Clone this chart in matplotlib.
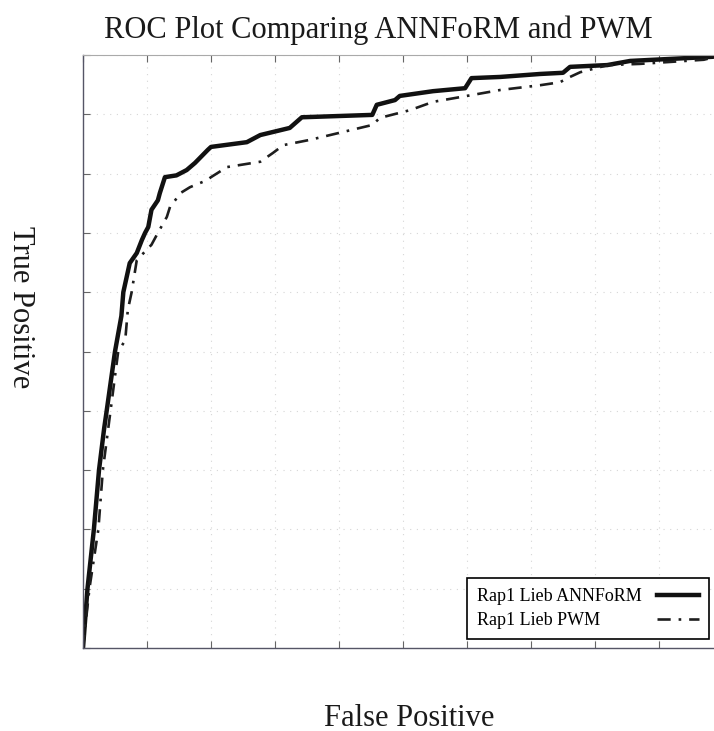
import matplotlib
matplotlib.use("Agg")
import matplotlib.pyplot as plt
import numpy as np

# ROC curve points (false positive rate, true positive rate)
annform_fp = [0.0, 0.007, 0.017, 0.025, 0.033, 0.037, 0.05, 0.06, 0.063, 0.073, 0.084,
              0.092, 0.097, 0.102, 0.107, 0.117, 0.12, 0.128, 0.146, 0.162, 0.175, 0.195,
              0.20, 0.256, 0.277, 0.323, 0.342, 0.452, 0.459, 0.4875, 0.495, 0.547, 0.597,
              0.607, 0.652, 0.714, 0.75, 0.761, 0.819, 0.855, 0.984, 1.0]
annform_tp = [0.0, 0.1, 0.2, 0.3, 0.37, 0.4, 0.5, 0.56, 0.6, 0.649, 0.666,
              0.688, 0.70, 0.71, 0.739, 0.755, 0.767, 0.794, 0.797, 0.806, 0.818, 0.84,
              0.845, 0.853, 0.865, 0.877, 0.895, 0.899, 0.916, 0.924, 0.931, 0.939, 0.944,
              0.961, 0.963, 0.968, 0.97, 0.98, 0.983, 0.99, 0.997, 1.0]

pwm_fp = [0.0, 0.01, 0.024, 0.031, 0.043, 0.055, 0.066, 0.07, 0.076, 0.084, 0.107,
          0.117, 0.131, 0.136, 0.144, 0.152, 0.167, 0.178, 0.194, 0.20, 0.225, 0.277,
          0.297, 0.313, 0.355, 0.452, 0.464, 0.511, 0.547, 0.6, 0.652, 0.714, 0.745,
          0.761, 0.777, 0.82, 0.87, 0.97, 1.0]
pwm_tp = [0.0, 0.1, 0.2, 0.3, 0.4, 0.5, 0.519, 0.57, 0.6, 0.654, 0.68,
          0.70, 0.727, 0.744, 0.755, 0.767, 0.777, 0.782, 0.789, 0.794, 0.811, 0.82,
          0.835, 0.848, 0.857, 0.882, 0.894, 0.907, 0.921, 0.931, 0.941, 0.949, 0.954,
          0.963, 0.971, 0.983, 0.985, 0.992, 1.0]

series_labels = ["Rap1 Lieb ANNFoRM", "Rap1 Lieb PWM"]
tick_positions = np.arange(0.0, 1.01, 0.1)

plt.rcParams["font.family"] = ["Liberation Serif", "DejaVu Serif"]

fig = plt.figure(figsize=(7.14, 7.31), dpi=100)
ax = fig.add_axes([83 / 714, 83 / 731, 640 / 714, 593 / 731])

ax.plot(annform_fp, annform_tp, color="#111111", lw=3.2, solid_joinstyle="round",
        label=series_labels[0])
ax.plot(pwm_fp, pwm_tp, color="#1e1e1e", lw=1.9, linestyle=(0, (5, 3, 1, 3)),
        label=series_labels[1])

ax.set_xlim(0, 1)
ax.set_ylim(0, 1)
ax.set_xticks(tick_positions)
ax.set_yticks(tick_positions)
ax.set_xticklabels([])
ax.set_yticklabels([])
ax.tick_params(direction="in", length=5, width=0.8, colors="#666666",
               top=True, right=True)
ax.grid(True, color="#d6d6d6", linestyle=(0, (1, 5)), lw=0.8)

for side in ["left", "bottom"]:
    ax.spines[side].set_color("#555566")
    ax.spines[side].set_linewidth(1.0)
ax.spines["top"].set_color("#aaaaaa")
ax.spines["top"].set_linewidth(0.8)

leg = ax.legend(loc="lower left", bbox_to_anchor=((467 - 83) / 640, (648 - 639) / 593),
                borderaxespad=0, frameon=True, fancybox=False, framealpha=1,
                edgecolor="black", markerfirst=False, fontsize=13,
                handlelength=2.35, borderpad=0.55, labelspacing=0.4, handletextpad=1.0)
leg.get_frame().set_linewidth(1.2)

# left-align the labels and push the line samples to the right edge of each row
for column in leg._legend_handle_box.get_children():
    column.align = "left"
    for row in column.get_children():
        row.mode = "expand"
        row.width = 222

fig.text(378 / 714, 1 - 30 / 731, "ROC Plot Comparing ANNFoRM and PWM",
         ha="center", va="center", fontsize=22, color="#1a1a1a")
fig.text(409 / 714, 1 - 718 / 731, "False Positive",
         ha="center", va="center", fontsize=22, color="#1a1a1a")
fig.text(20 / 714, 1 - 307 / 731, "True Positive", rotation=270,
         ha="center", va="center", fontsize=22, color="#1a1a1a")

fig.savefig("out.png", dpi=100)
